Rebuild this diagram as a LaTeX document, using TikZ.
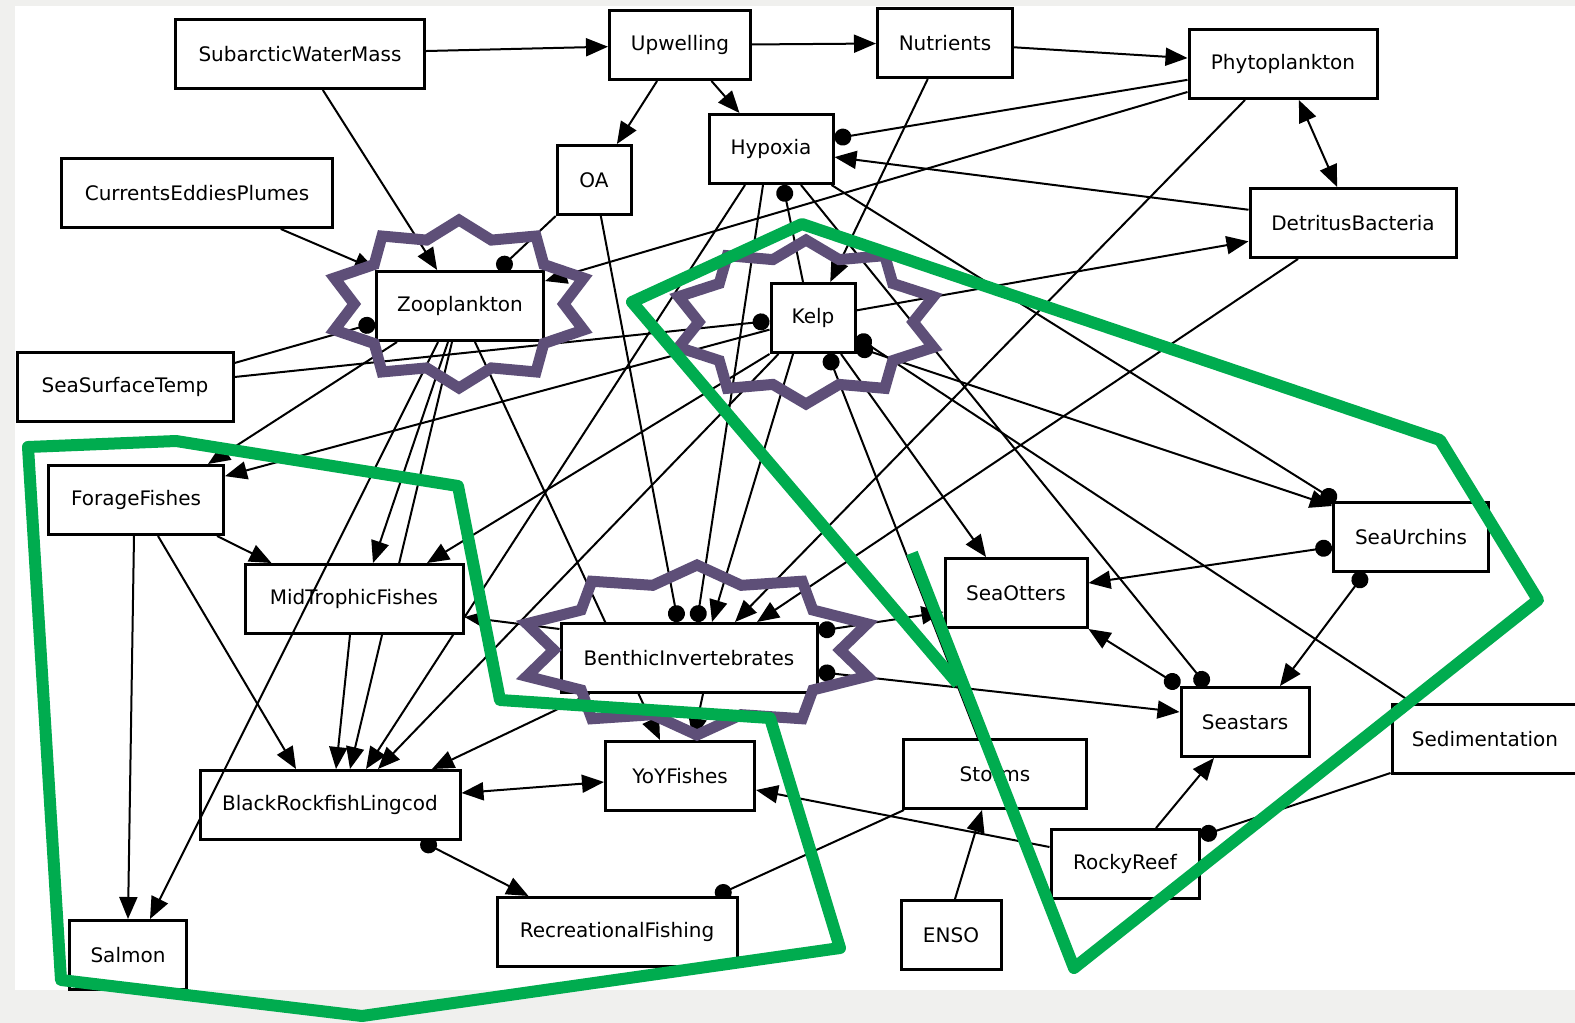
\documentclass[tikz,border=0pt]{standalone}
\usepackage{fontspec}
\setmainfont{DejaVu Sans}
\usepackage{tikz}
\usetikzlibrary{arrows.meta, calc, positioning}

\definecolor{burstpurple}{RGB}{94,79,120}
\definecolor{groupgreen}{RGB}{0,172,79}
\definecolor{pagegray}{RGB}{240,240,238}

\pgfdeclarelayer{canvas}
\pgfdeclarelayer{wires}
\pgfsetlayers{canvas,wires,main}

\tikzset{
  var/.style={rectangle, draw=black, line width=1.5pt, fill=white, inner sep=0pt, minimum height=34.5pt, font=\fontsize{10}{12}\selectfont},
  link/.style={line width=1pt},
  feeds/.style={link, -{Triangle[length=11pt,width=9pt]}},
  hurts/.style={link, -{Circle[length=8.5pt]}},
  eats/.style={link, {Circle[length=8.5pt]}-{Triangle[length=11pt,width=9pt]}},
  mutual/.style={link, {Triangle[length=11pt,width=9pt]}-{Triangle[length=11pt,width=9pt]}},
  burstline/.style={draw=burstpurple, line width=5.5pt, line join=miter},
  cluster/.style={draw=groupgreen, line width=6pt, line join=round}
}

% ten-point burst: centre x, centre y, radius x, radius y (pixel units)
\newcommand{\drawburst}[4]{
    \draw[burstline] ({#1},{#2-#4})
      \foreach \a in {90,126,...,378} {
        -- ({#1+0.8*#3*cos(\a+18)},{#2-0.8*#4*sin(\a+18)})
        -- ({#1+#3*cos(\a+36)},{#2-#4*sin(\a+36)})
      }
      -- ({#1+0.8*#3*cos(432)},{#2-0.8*#4*sin(432)}) -- cycle;
}

\begin{document}
\begin{tikzpicture}[x=0.5pt, y=-0.5pt]
    \useasboundingbox (0,0) rectangle (1575,1023);
    \begin{pgfonlayer}{canvas}
        \fill[pagegray] (0,0) rectangle (1575,1023);
        \fill[white] (15,6) rectangle (1575,990);
    \end{pgfonlayer}

    % ==========================================
    % 1. Variables
    % ==========================================
    \node[var, minimum width=124.5pt] (sub) at (300,54) {SubarcticWaterMass};
    \node[var, minimum width=70.5pt] (upw) at (680,45) {Upwelling};
    \node[var, minimum width=67.5pt] (nut) at (945,43) {Nutrients};
    \node[var, minimum width=94pt] (phy) at (1283,64) {Phytoplankton};
    \node[var, minimum width=62pt] (hyp) at (771,149) {Hypoxia};
    \node[var, minimum width=37pt] (oa) at (594,180) {OA};
    \node[var, minimum width=135.5pt] (cur) at (197,193) {CurrentsEddiesPlumes};
    \node[var, minimum width=103pt] (det) at (1353,223) {DetritusBacteria};
    \node[var, minimum width=83.5pt] (zoo) at (460,306) {Zooplankton};
    \node[var, minimum width=42pt] (kelp) at (813,318) {Kelp};
    \node[var, minimum width=108pt] (sst) at (125,387) {SeaSurfaceTemp};
    \node[var, minimum width=87.5pt] (forage) at (136,500) {ForageFishes};
    \node[var, minimum width=109pt] (mid) at (354,599) {MidTrophicFishes};
    \node[var, minimum width=71pt] (otters) at (1016,593) {SeaOtters};
    \node[var, minimum width=77.5pt] (urchins) at (1411,537) {SeaUrchins};
    \node[var, minimum width=128pt] (ben) at (689,658) {BenthicInvertebrates};
    \node[var, minimum width=64pt] (seastars) at (1245,722) {Seastars};
    \node[var, minimum width=93pt] (sed) at (1485,739) {Sedimentation};
    \node[var, minimum width=74.5pt] (yoy) at (680,776) {YoYFishes};
    \node[var, minimum width=91.5pt] (storms) at (995,774) {Storms};
    \node[var, minimum width=130pt] (black) at (330,805) {BlackRockfishLingcod};
    \node[var, minimum width=74pt] (rocky) at (1125,864) {RockyReef};
    \node[var, minimum width=120pt] (rec) at (617,932) {RecreationalFishing};
    \node[var, minimum width=50pt] (enso) at (951,935) {ENSO};
    \node[var, minimum width=58.5pt] (salmon) at (128,955) {Salmon};

    % ==========================================
    % 2. Links
    % ==========================================
    \begin{pgfonlayer}{wires}
        % Physical drivers
        \draw[feeds] (sub) -- (upw);
        \draw[feeds] (sub) -- (zoo);
        \draw[feeds] (upw) -- (nut);
        \draw[feeds] (upw) -- (oa);
        \draw[feeds] (upw) -- (hyp);
        \draw[feeds] (nut) -- (phy);
        \draw[feeds] (nut) -- (kelp);
        \draw[feeds] (cur) -- (zoo);
        \draw[hurts] ($(sst.east)+(0,-24)$) -- ($(zoo.west)+(0,17)$);
        \draw[hurts] ($(sst.east)+(0,-10)$) -- ($(kelp.west)+(0,3)$);
        \draw[feeds] ($(enso.north)+(4,0)$) -- ($(storms.south)+(-13,0)$);
        \draw[hurts] ($(storms.north)+(-17,0)$) -- ($(kelp.south)+(15,0)$);
        \draw[hurts] ($(storms.south west)+(2,0)$) -- ($(rec.north east)+(-23,0)$);
        \draw[hurts] ($(sed.north west)+(22,0)$) -- ($(kelp.east)+(0,19)$);
        \draw[hurts] ($(sed.south west)+(0,-2)$) -- ($(rocky.north east)+(0,8)$);

        % Plankton and detritus
        \draw[hurts] (phy) -- (hyp);
        \draw[feeds] (phy) -- (zoo);
        \draw[mutual] (phy) -- (det);
        \draw[feeds] ($(phy.south)+(-38,0)$) -- ($(ben.north)+(46,0)$);
        \draw[feeds] (det) -- (hyp);
        \draw[feeds] ($(det.south)+(-55,0)$) -- ($(ben.north)+(68,0)$);
        \draw[hurts] (oa) -- (zoo);
        \draw[hurts] (oa) -- ($(ben.north)+(-11,0)$);

        % Hypoxia
        \draw[hurts] ($(hyp.south)+(-8,0)$) -- ($(ben.north)+(8,0)$);
        \draw[feeds] ($(hyp.south)+(-26,0)$) -- ($(black.north)+(36,0)$);
        \draw[hurts] ($(hyp.south)+(30,0)$) -- ($(seastars.north)+(-38,0)$);
        \draw[hurts] ($(hyp.south east)+(-3,0)$) -- ($(urchins.north west)+(4,0)$);

        % Kelp
        \draw[hurts] ($(kelp.north)+(-10,0)$) -- ($(hyp.south)+(12,0)$);
        \draw[feeds] (kelp) -- (det);
        \draw[feeds] (kelp) -- (forage);
        \draw[feeds] (kelp.south west) -- ($(mid.north)+(73,0)$);
        \draw[feeds] ($(kelp.south west)+(9,0)$) -- ($(black.north)+(48,0)$);
        \draw[feeds] ($(kelp.south)+(-20,0)$) -- ($(ben.north)+(23,0)$);
        \draw[feeds] ($(kelp.south)+(28,0)$) -- ($(otters.north)+(-30,0)$);
        \draw[eats] ($(kelp.east)+(0,29)$) -- ($(urchins.north west)+(0,5)$);

        % Zooplankton and fishes
        \draw[feeds] ($(zoo.south)+(-63,0)$) -- ($(forage.north)+(72,0)$);
        \draw[feeds] ($(zoo.south)+(-12,0)$) -- ($(mid.north)+(19,0)$);
        \draw[feeds] ($(zoo.south)+(-8,0)$) -- ($(black.north)+(20,0)$);
        \draw[feeds] ($(zoo.south)+(15,0)$) -- ($(yoy.north)+(-20,0)$);
        \draw[feeds] ($(forage.south)+(-2,0)$) -- (salmon.north);
        \draw[feeds] ($(forage.south)+(22,0)$) -- ($(black.north)+(-34,0)$);
        \draw[feeds] ($(forage.south east)+(-8,0)$) -- ($(mid.north west)+(28,0)$);
        \draw[feeds] ($(mid.south)+(-4,0)$) -- ($(black.north)+(6,0)$);
        \draw[mutual] ($(black.east)+(0,-12)$) -- ($(yoy.west)+(0,6)$);
        \draw[eats] ($(black.south)+(91,0)$) -- ($(rec.north west)+(33,0)$);
        \draw[feeds] ($(rocky.west)+(0,-17)$) -- ($(yoy.east)+(0,14)$);

        % Benthos
        \draw[feeds] ($(ben.north west)+(0,7)$) -- ($(mid.east)+(0,18)$);
        \draw[feeds] ($(ben.south west)+(30,0)$) -- ($(black.north)+(102,0)$);
        \draw[feeds] ($(ben.south)+(14,0)$) -- ($(yoy.north)+(13,0)$);
        \draw[eats] ($(ben.north east)+(0,9)$) -- ($(otters.west)+(0,19)$);
        \draw[eats] ($(ben.east)+(0,14)$) -- ($(seastars.west)+(0,-10)$);
        \draw[eats] ($(urchins.west)+(0,10)$) -- ($(otters.east)+(0,-10)$);
        \draw[eats] ($(urchins.south)+(-46,0)$) -- ($(seastars.north)+(35,0)$);
        \draw[eats] (seastars.north west) -- (otters.south east);
        \draw[feeds] ($(rocky.north)+(31,0)$) -- ($(seastars.south)+(-31,0)$);
    \end{pgfonlayer}

    % this one runs over the boxes
    \draw[feeds] ($(zoo.south)+(-22,0)$) -- ($(salmon.north)+(22,0)$);

    % ==========================================
    % 3. Highlights
    % ==========================================
    \drawburst{459}{304}{131}{84}
    \drawburst{806}{322}{134}{82}
    \drawburst{697}{650}{179}{85}

    \draw[cluster] (28,447) -- (176,441) -- (458,486) -- (500,700) -- (770,718)
        -- (840,948) -- (362,1016) -- (61,980) -- cycle;
    \draw[cluster] (912,553) -- (1074,968) -- (1538,600) -- (1440,440)
        -- (802,224) -- (632,302) -- (958,684);

\end{tikzpicture}
\end{document}
